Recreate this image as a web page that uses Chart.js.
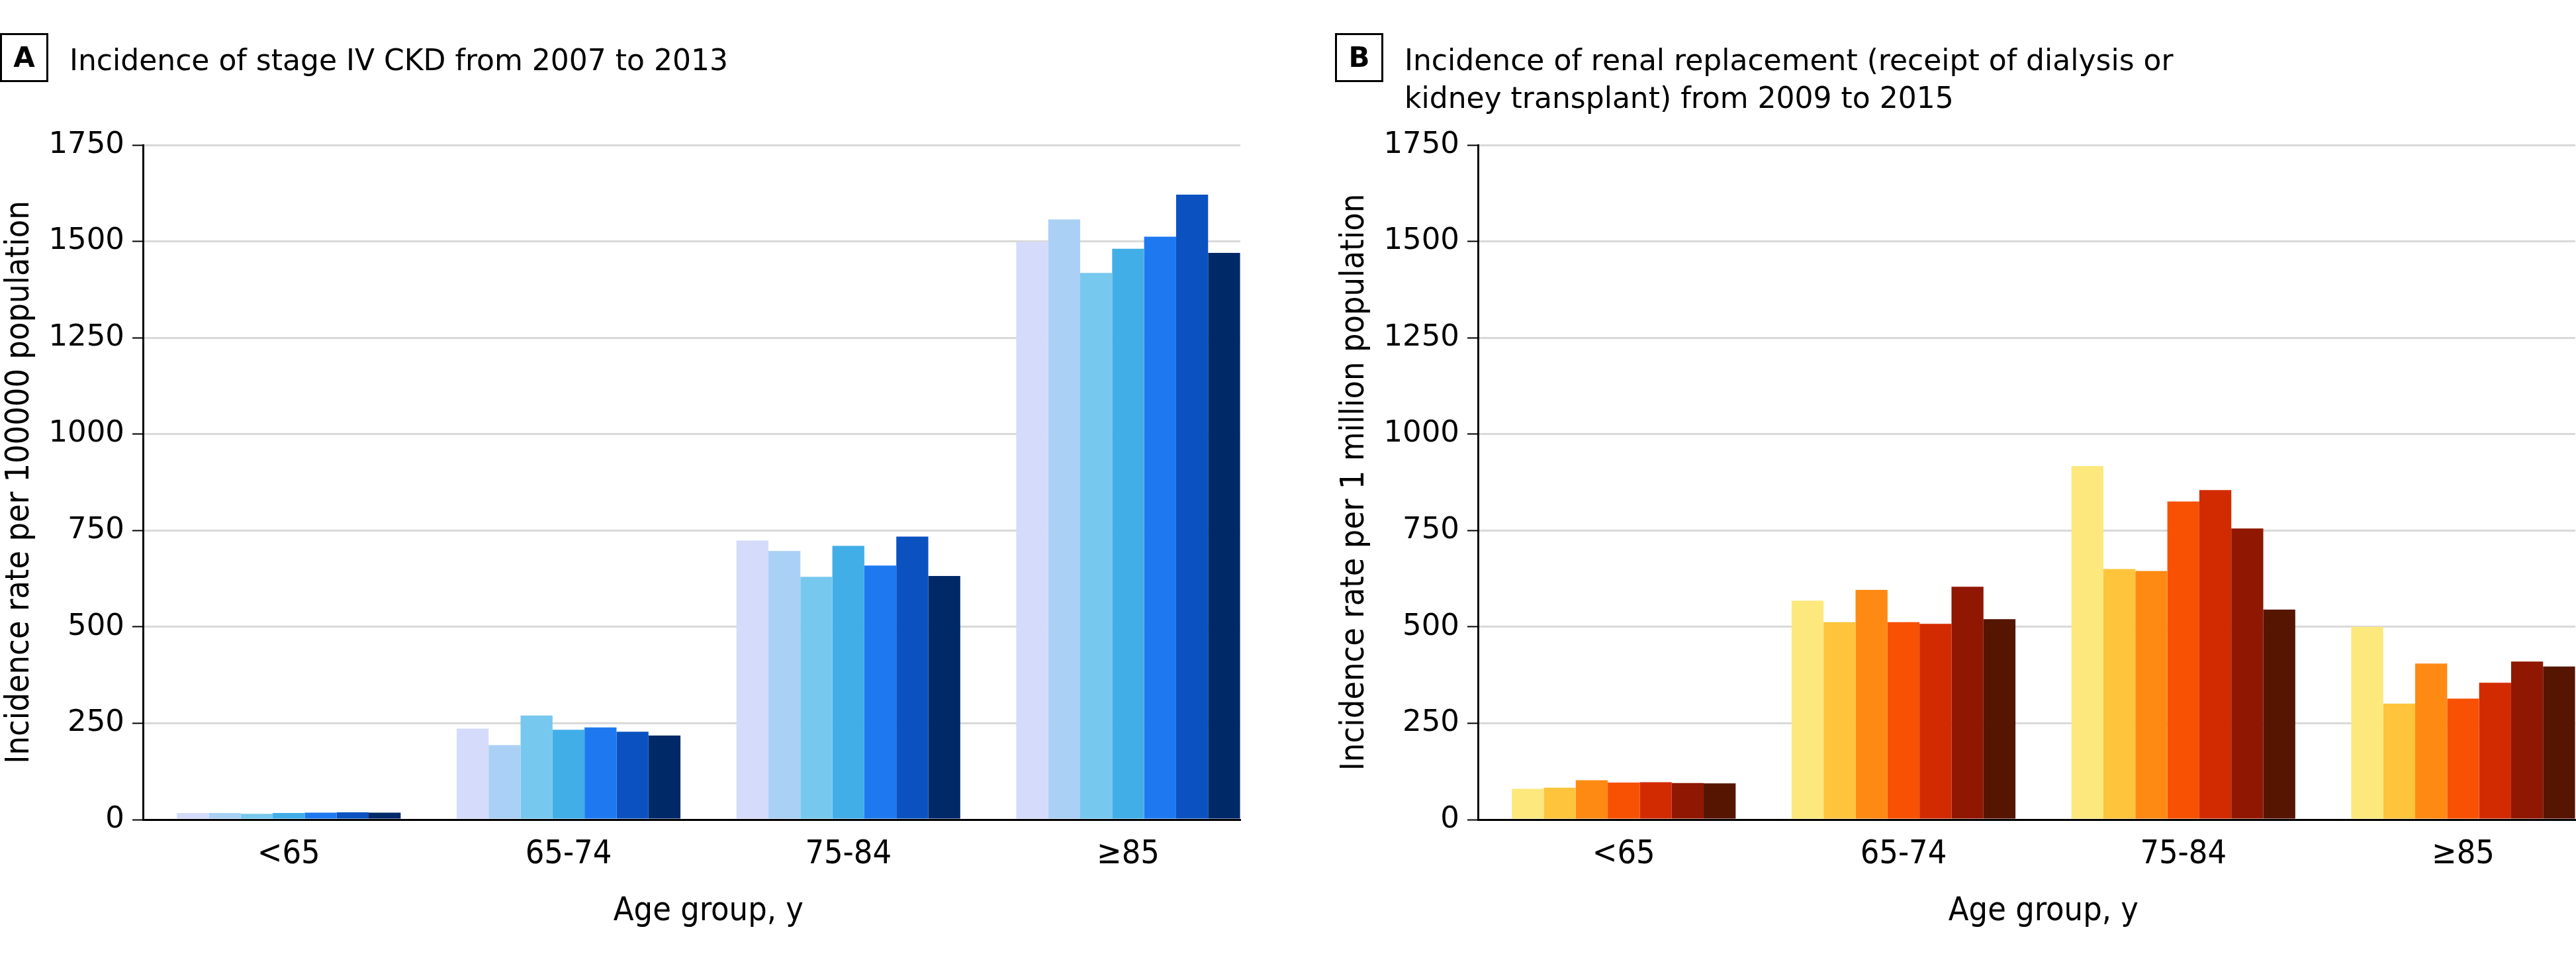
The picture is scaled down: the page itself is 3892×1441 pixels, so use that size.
<!DOCTYPE html>
<html>
<head>
<meta charset="utf-8">
<script src="https://cdn.jsdelivr.net/npm/chart.js@4.4.1/dist/chart.umd.min.js"></script>
<style>
html, body { margin: 0; padding: 0; background: #ffffff; }
body { width: 3892px; height: 1441px; position: relative; overflow: hidden; font-family: 'DejaVu Sans', sans-serif; color: #000; }
.panel { position: absolute; top: 0; width: 1875px; height: 1441px; }
.panel canvas { position: absolute; left: 0; top: 0; }
.box { position: absolute; left: 0; top: 50px; width: 67px; height: 68px; border: 3px solid #000; font: bold 42px 'DejaVu Sans', sans-serif; text-align: center; line-height: 68px; }
.title { position: absolute; left: 105px; top: 62px; font: 44px 'DejaVu Sans', sans-serif; line-height: 57px; white-space: nowrap; }
</style>
</head>
<body>
<div class="panel" style="left:0px;">
  <canvas id="chartA" width="1875" height="1441"></canvas>
  <div class="box">A</div>
  <div class="title">Incidence of stage IV CKD from 2007 to 2013</div>
</div>
<div class="panel" style="left:2017px;">
  <canvas id="chartB" width="1875" height="1441"></canvas>
  <div class="box">B</div>
  <div class="title">Incidence of renal replacement (receipt of dialysis or<br>kidney transplant) from 2009 to 2015</div>
</div>
<script>
// ---------- data ----------
const ageGroups = ['<65', '65-74', '75-84', '\u226585'];
const yTickValues = [0, 250, 500, 750, 1000, 1250, 1500, 1750];

// Panel A: incidence of stage IV CKD per 100000 (values per age group)
const yearsA = ['2007', '2008', '2009', '2010', '2011', '2012', '2013'];
const ckd2007 = [17, 236, 724, 1499];
const ckd2008 = [17, 193, 697, 1557];
const ckd2009 = [15, 270, 630, 1418];
const ckd2010 = [17, 233, 710, 1481];
const ckd2011 = [18, 239, 659, 1512];
const ckd2012 = [19, 228, 734, 1621];
const ckd2013 = [18, 218, 632, 1470];

// Panel B: incidence of renal replacement per 1 million (values per age group)
const yearsB = ['2009', '2010', '2011', '2012', '2013', '2014', '2015'];
const rrt2009 = [80, 568, 917, 500];
const rrt2010 = [83, 512, 650, 301];
const rrt2011 = [102, 596, 645, 405];
const rrt2012 = [96, 512, 825, 314];
const rrt2013 = [97, 508, 855, 355];
const rrt2014 = [95, 604, 755, 410];
const rrt2015 = [94, 520, 545, 397];

const blues = ['#d5dbfa', '#aad0f5', '#77c8ee', '#42aee8', '#1e79f0', '#0b52c0', '#002968'];
const oranges = ['#fce87c', '#fec43c', '#fe8a14', '#f85104', '#d22b02', '#901702', '#551500'];

// ---------- chart ----------
const condensed = "'DejaVu Sans Condensed', 'Liberation Sans Narrow', 'DejaVu Sans', sans-serif";
Chart.defaults.color = '#000';
Chart.defaults.font.family = "'DejaVu Sans', sans-serif";

const xTitlePlugin = {
  id: 'xTitle',
  afterDraw(chart, args, opts) {
    const xs = chart.scales.x;
    const ctx = chart.ctx;
    const cx = (xs.getPixelForValue(0) + xs.getPixelForValue(ageGroups.length - 1)) / 2;
    ctx.save();
    ctx.font = opts.font;
    ctx.fillStyle = '#000';
    ctx.textAlign = 'center';
    ctx.textBaseline = 'alphabetic';
    ctx.fillText(opts.text, cx, opts.baseline);
    ctx.restore();
  }
};

function makeChart(id, years, series, colors, yTitle) {
  const datasets = years.map((yr, i) => ({
    label: yr,
    data: series[i].map((v, k) => ({ x: k, y: v })),
    backgroundColor: colors[i],
    borderWidth: 0,
    categoryPercentage: 0.8,
    barPercentage: 1.0
  }));
  return new Chart(document.getElementById(id), {
    type: 'bar',
    data: { datasets },
    plugins: [xTitlePlugin],
    options: {
      responsive: false,
      animation: false,
      layout: { padding: { left: 0, right: 1, top: 219, bottom: 0 } },
      plugins: {
        legend: { display: false },
        tooltip: { enabled: false },
        xTitle: { text: 'Age group, y', font: "50px " + condensed, baseline: 1390 }
      },
      scales: {
        x: {
          type: 'linear',
          offset: false,
          min: -0.521,
          max: 3.401,
          afterFit: s => { s.height = 203; },
          afterBuildTicks: s => { s.ticks = ageGroups.map((g, k) => ({ value: k })); },
          grid: { display: false, drawTicks: false, offset: false },
          border: { display: true, color: '#000', width: 3 },
          ticks: {
            autoSkip: false,
            maxRotation: 0,
            padding: 23,
            font: { family: condensed, size: 50 },
            color: '#000',
            callback: v => ageGroups[v]
          }
        },
        y: {
          min: 0,
          max: 1750,
          afterFit: s => { s.width = 216; },
          afterBuildTicks: s => { s.ticks = yTickValues.map(v => ({ value: v })); },
          grid: { color: '#d9d9d9', lineWidth: 3, tickColor: '#000', tickWidth: 2, tickLength: 16, drawTicks: true },
          border: { display: true, color: '#000', width: 3 },
          ticks: {
            padding: 12,
            font: { family: "'DejaVu Sans', sans-serif", size: 45 },
            color: '#000',
            callback: v => String(v)
          },
          title: {
            display: true,
            text: yTitle,
            font: { family: condensed, size: 50 },
            color: '#000',
            padding: { top: 0, bottom: 0 }
          }
        }
      }
    }
  });
}

makeChart('chartA', yearsA, [ckd2007, ckd2008, ckd2009, ckd2010, ckd2011, ckd2012, ckd2013], blues,
  'Incidence rate per 100000 population');
makeChart('chartB', yearsB, [rrt2009, rrt2010, rrt2011, rrt2012, rrt2013, rrt2014, rrt2015], oranges,
  'Incidence rate per 1 million population');
</script>
</body>
</html>
